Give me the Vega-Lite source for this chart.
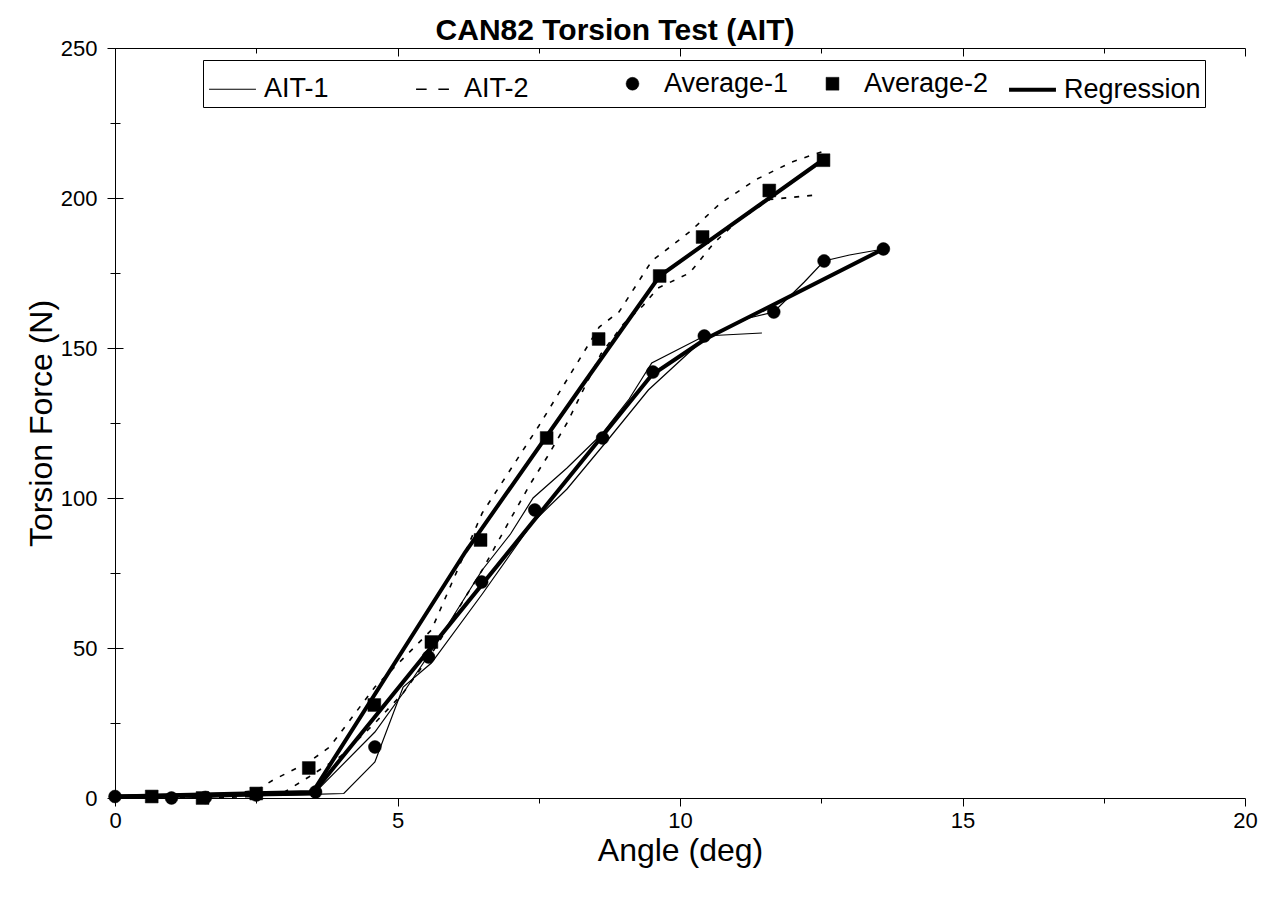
{
  "$schema": "https://vega.github.io/schema/vega-lite/v6.json",
  "width": 1130,
  "height": 750,
  "autosize": {"type": "none"},
  "padding": {"left": 115, "top": 48, "right": 40, "bottom": 119},
  "background": "white",
  "config": {
    "view": {"stroke": null},
    "font": "Liberation Sans",
    "axis": {"domainColor": "black", "tickColor": "black", "labelColor": "black", "titleColor": "black", "labelFont": "Liberation Sans", "titleFont": "Liberation Sans", "titleFontWeight": "normal"}
  },
  "title": {"text": "CAN82 Torsion Test (AIT)", "fontSize": 30, "font": "Liberation Sans", "fontWeight": "bold", "color": "black", "dx": -65, "dy": 12, "offset": 3},
  "data": {
    "values": [
      {"series": "AIT-1", "spec": "A", "x": 0, "y": 0.5},
      {"series": "AIT-1", "spec": "A", "x": 0.5, "y": 0.3},
      {"series": "AIT-1", "spec": "A", "x": 1.0, "y": 0},
      {"series": "AIT-1", "spec": "A", "x": 1.6, "y": 0.2},
      {"series": "AIT-1", "spec": "A", "x": 2.5, "y": 0.8},
      {"series": "AIT-1", "spec": "A", "x": 3.5, "y": 1.2},
      {"series": "AIT-1", "spec": "A", "x": 4.05, "y": 1.5},
      {"series": "AIT-1", "spec": "A", "x": 4.6, "y": 12},
      {"series": "AIT-1", "spec": "A", "x": 5.1, "y": 37},
      {"series": "AIT-1", "spec": "A", "x": 5.6, "y": 45},
      {"series": "AIT-1", "spec": "A", "x": 6.5, "y": 68},
      {"series": "AIT-1", "spec": "A", "x": 7.4, "y": 92},
      {"series": "AIT-1", "spec": "A", "x": 8.0, "y": 103},
      {"series": "AIT-1", "spec": "A", "x": 8.75, "y": 120},
      {"series": "AIT-1", "spec": "A", "x": 9.44, "y": 136},
      {"series": "AIT-1", "spec": "A", "x": 10.16, "y": 148.5},
      {"series": "AIT-1", "spec": "A", "x": 10.43, "y": 153},
      {"series": "AIT-1", "spec": "A", "x": 11.22, "y": 160},
      {"series": "AIT-1", "spec": "A", "x": 11.66, "y": 162},
      {"series": "AIT-1", "spec": "A", "x": 12.2, "y": 172},
      {"series": "AIT-1", "spec": "A", "x": 12.55, "y": 179},
      {"series": "AIT-1", "spec": "A", "x": 13.0, "y": 181},
      {"series": "AIT-1", "spec": "A", "x": 13.6, "y": 183},
      {"series": "AIT-1", "spec": "B", "x": 0, "y": 0.5},
      {"series": "AIT-1", "spec": "B", "x": 0.5, "y": 0.7},
      {"series": "AIT-1", "spec": "B", "x": 1.0, "y": 0.5},
      {"series": "AIT-1", "spec": "B", "x": 1.6, "y": 0.5},
      {"series": "AIT-1", "spec": "B", "x": 2.5, "y": 1.5},
      {"series": "AIT-1", "spec": "B", "x": 3.55, "y": 2},
      {"series": "AIT-1", "spec": "B", "x": 4.6, "y": 22},
      {"series": "AIT-1", "spec": "B", "x": 5.1, "y": 35},
      {"series": "AIT-1", "spec": "B", "x": 5.6, "y": 49},
      {"series": "AIT-1", "spec": "B", "x": 6.5, "y": 76},
      {"series": "AIT-1", "spec": "B", "x": 7.0, "y": 88},
      {"series": "AIT-1", "spec": "B", "x": 7.4, "y": 100},
      {"series": "AIT-1", "spec": "B", "x": 8.0, "y": 110},
      {"series": "AIT-1", "spec": "B", "x": 8.6, "y": 121},
      {"series": "AIT-1", "spec": "B", "x": 9.1, "y": 133},
      {"series": "AIT-1", "spec": "B", "x": 9.5, "y": 145},
      {"series": "AIT-1", "spec": "B", "x": 10.43, "y": 154},
      {"series": "AIT-1", "spec": "B", "x": 11.45, "y": 155},
      {"series": "AIT-2", "spec": "A", "x": 0, "y": 0.8},
      {"series": "AIT-2", "spec": "A", "x": 0.65, "y": 0.8},
      {"series": "AIT-2", "spec": "A", "x": 1.55, "y": 0.5},
      {"series": "AIT-2", "spec": "A", "x": 2.5, "y": 2.5},
      {"series": "AIT-2", "spec": "A", "x": 2.8, "y": 6},
      {"series": "AIT-2", "spec": "A", "x": 3.43, "y": 12},
      {"series": "AIT-2", "spec": "A", "x": 3.8, "y": 17},
      {"series": "AIT-2", "spec": "A", "x": 4.6, "y": 37},
      {"series": "AIT-2", "spec": "A", "x": 5.6, "y": 56},
      {"series": "AIT-2", "spec": "A", "x": 6.5, "y": 95},
      {"series": "AIT-2", "spec": "A", "x": 7.5, "y": 124},
      {"series": "AIT-2", "spec": "A", "x": 8.57, "y": 157},
      {"series": "AIT-2", "spec": "A", "x": 8.92, "y": 162},
      {"series": "AIT-2", "spec": "A", "x": 9.5, "y": 179},
      {"series": "AIT-2", "spec": "A", "x": 10.19, "y": 189},
      {"series": "AIT-2", "spec": "A", "x": 10.7, "y": 198},
      {"series": "AIT-2", "spec": "A", "x": 11.33, "y": 206},
      {"series": "AIT-2", "spec": "A", "x": 11.98, "y": 212},
      {"series": "AIT-2", "spec": "A", "x": 12.6, "y": 216},
      {"series": "AIT-2", "spec": "B", "x": 0, "y": 0.2},
      {"series": "AIT-2", "spec": "B", "x": 0.65, "y": 0.2},
      {"series": "AIT-2", "spec": "B", "x": 1.55, "y": 0},
      {"series": "AIT-2", "spec": "B", "x": 2.5, "y": 0.5},
      {"series": "AIT-2", "spec": "B", "x": 3.0, "y": 2},
      {"series": "AIT-2", "spec": "B", "x": 3.43, "y": 7},
      {"series": "AIT-2", "spec": "B", "x": 4.0, "y": 14},
      {"series": "AIT-2", "spec": "B", "x": 4.6, "y": 25},
      {"series": "AIT-2", "spec": "B", "x": 5.1, "y": 35},
      {"series": "AIT-2", "spec": "B", "x": 5.6, "y": 48},
      {"series": "AIT-2", "spec": "B", "x": 5.83, "y": 55},
      {"series": "AIT-2", "spec": "B", "x": 6.17, "y": 66},
      {"series": "AIT-2", "spec": "B", "x": 6.5, "y": 76},
      {"series": "AIT-2", "spec": "B", "x": 6.97, "y": 92},
      {"series": "AIT-2", "spec": "B", "x": 7.36, "y": 105},
      {"series": "AIT-2", "spec": "B", "x": 7.66, "y": 114},
      {"series": "AIT-2", "spec": "B", "x": 8.0, "y": 125},
      {"series": "AIT-2", "spec": "B", "x": 8.6, "y": 148},
      {"series": "AIT-2", "spec": "B", "x": 9.0, "y": 158},
      {"series": "AIT-2", "spec": "B", "x": 9.34, "y": 164},
      {"series": "AIT-2", "spec": "B", "x": 9.61, "y": 170},
      {"series": "AIT-2", "spec": "B", "x": 10.17, "y": 175},
      {"series": "AIT-2", "spec": "B", "x": 10.6, "y": 185},
      {"series": "AIT-2", "spec": "B", "x": 11.0, "y": 192},
      {"series": "AIT-2", "spec": "B", "x": 11.59, "y": 199.5},
      {"series": "AIT-2", "spec": "B", "x": 12.4, "y": 201},
      {"series": "Regression", "spec": "1", "x": 0, "y": 0.5},
      {"series": "Regression", "spec": "1", "x": 3.5, "y": 1.5},
      {"series": "Regression", "spec": "1", "x": 9.5, "y": 141},
      {"series": "Regression", "spec": "1", "x": 10.45, "y": 153},
      {"series": "Regression", "spec": "1", "x": 13.6, "y": 183},
      {"series": "Regression", "spec": "2", "x": 0, "y": 0.5},
      {"series": "Regression", "spec": "2", "x": 3.5, "y": 2},
      {"series": "Regression", "spec": "2", "x": 6.2, "y": 82},
      {"series": "Regression", "spec": "2", "x": 8.25, "y": 137},
      {"series": "Regression", "spec": "2", "x": 9.64, "y": 174},
      {"series": "Regression", "spec": "2", "x": 12.55, "y": 213},
      {"series": "Average-1", "spec": "1", "x": 0, "y": 0.5},
      {"series": "Average-1", "spec": "1", "x": 1.0, "y": 0},
      {"series": "Average-1", "spec": "1", "x": 1.6, "y": 0.2},
      {"series": "Average-1", "spec": "1", "x": 2.5, "y": 1},
      {"series": "Average-1", "spec": "1", "x": 3.55, "y": 2},
      {"series": "Average-1", "spec": "1", "x": 4.6, "y": 17},
      {"series": "Average-1", "spec": "1", "x": 5.55, "y": 47},
      {"series": "Average-1", "spec": "1", "x": 6.49, "y": 72},
      {"series": "Average-1", "spec": "1", "x": 7.43, "y": 96},
      {"series": "Average-1", "spec": "1", "x": 8.63, "y": 120},
      {"series": "Average-1", "spec": "1", "x": 9.52, "y": 142},
      {"series": "Average-1", "spec": "1", "x": 10.43, "y": 154},
      {"series": "Average-1", "spec": "1", "x": 11.66, "y": 162},
      {"series": "Average-1", "spec": "1", "x": 12.55, "y": 179},
      {"series": "Average-1", "spec": "1", "x": 13.6, "y": 183},
      {"series": "Average-2", "spec": "2", "x": 0.65, "y": 0.5},
      {"series": "Average-2", "spec": "2", "x": 1.55, "y": 0},
      {"series": "Average-2", "spec": "2", "x": 2.5, "y": 1.5},
      {"series": "Average-2", "spec": "2", "x": 3.43, "y": 10},
      {"series": "Average-2", "spec": "2", "x": 4.59, "y": 31},
      {"series": "Average-2", "spec": "2", "x": 5.6, "y": 52},
      {"series": "Average-2", "spec": "2", "x": 6.47, "y": 86},
      {"series": "Average-2", "spec": "2", "x": 7.64, "y": 120},
      {"series": "Average-2", "spec": "2", "x": 8.56, "y": 153},
      {"series": "Average-2", "spec": "2", "x": 9.64, "y": 174},
      {"series": "Average-2", "spec": "2", "x": 10.4, "y": 187},
      {"series": "Average-2", "spec": "2", "x": 11.58, "y": 202.5},
      {"series": "Average-2", "spec": "2", "x": 12.54, "y": 212.6}
    ]
  },
  "encoding": {
    "y": {
      "field": "y", "type": "quantitative",
      "scale": {"domain": [0, 250], "nice": false, "zero": false},
      "axis": {
        "title": "Torsion Force (N)", "titleFontSize": 32, "titlePadding": 2,
        "values": [0, 25, 50, 75, 100, 125, 150, 175, 200, 225, 250],
        "labelExpr": "datum.value % 50 === 0 ? datum.label : ''",
        "labelFontSize": 22, "labelPadding": 10, "labelFlush": false,
        "tickSize": {"condition": {"test": "datum.value % 50 === 0", "value": 8}, "value": 5},
        "grid": true, "gridColor": "black", "gridOpacity": 1, "gridWidth": 1,
        "gridDash": {"condition": {"test": "datum.value % 50 === 0", "value": [8, 3000]}, "value": [5, 3000]}
      }
    }
  },
  "layer": [
    {
      "encoding": {
        "x": {
          "field": "x", "type": "quantitative",
          "scale": {"domain": [0, 20], "nice": false, "zero": false},
          "axis": {
            "orient": "bottom",
            "title": "Angle (deg)", "titleFontSize": 32, "titlePadding": 4,
            "values": [0, 2.5, 5, 7.5, 10, 12.5, 15, 17.5, 20],
            "labelExpr": "datum.value % 5 === 0 ? datum.label : ''",
            "labelFontSize": 22, "labelPadding": 4, "labelFlush": false,
            "tickSize": {"condition": {"test": "datum.value % 5 === 0", "value": 8}, "value": 5},
            "grid": true, "gridColor": "black", "gridOpacity": 1, "gridWidth": 1,
            "gridDash": {"condition": {"test": "datum.value % 5 === 0", "value": [8, 3000]}, "value": [5, 3000]}
          }
        }
      },
      "layer": [
        {
          "transform": [{"filter": "datum.series === 'AIT-1'"}],
          "mark": {"type": "line", "color": "black", "strokeWidth": 1.2},
          "encoding": {"detail": {"field": "spec", "type": "nominal"}}
        },
        {
          "transform": [{"filter": "datum.series === 'AIT-2'"}],
          "mark": {"type": "line", "color": "black", "strokeWidth": 1.6, "strokeDash": [5, 8]},
          "encoding": {"detail": {"field": "spec", "type": "nominal"}}
        },
        {
          "transform": [{"filter": "datum.series === 'Average-1' || datum.series === 'Average-2'"}],
          "mark": {"type": "point", "filled": true, "color": "black", "stroke": "black", "opacity": 1},
          "encoding": {
            "shape": {
              "field": "series", "type": "nominal",
              "scale": {
                "domain": ["AIT-1", "AIT-2", "Average-1", "Average-2", "Regression"],
                "range": ["M-1,0H1", "M-0.7,0H-0.25M0.25,0H0.7", "circle", "square", "M-1,0H1"]
              },
              "legend": {
                "title": null, "orient": "none", "legendX": 88, "legendY": 12,
                "direction": "horizontal", "columns": 5, "gridAlign": "all", "columnPadding": 0,
                "labelOffset": 6, "labelFont": "Liberation Sans", "labelFontSize": 27,
                "labelColor": "black", "labelLimit": 400, "padding": 4,
                "strokeColor": "black", "fillColor": "white",
                "symbolStrokeColor": "black"
              }
            },
            "size": {
              "field": "series", "type": "nominal",
              "scale": {
                "type": "ordinal",
                "domain": ["AIT-1", "AIT-2", "Average-1", "Average-2", "Regression"],
                "range": [2200, 2200, 165, 165, 2200]
              }
            },
            "strokeWidth": {
              "field": "series", "type": "nominal",
              "scale": {
                "type": "ordinal",
                "domain": ["AIT-1", "AIT-2", "Average-1", "Average-2", "Regression"],
                "range": [1.2, 1.6, 0.5, 0.5, 4]
              }
            }
          }
        }
      ]
    },
    {
      "transform": [{"filter": "datum.series === 'Regression'"}],
      "mark": {"type": "line", "color": "black", "strokeWidth": 4},
      "encoding": {
        "detail": {"field": "spec", "type": "nominal"},
        "x": {
          "field": "x", "type": "quantitative",
          "scale": {"domain": [0, 20], "nice": false, "zero": false},
          "axis": {"orient": "top", "labels": false, "ticks": false, "grid": false, "title": null, "domainColor": "black", "domainWidth": 1.2}
        }
      }
    }
  ],
  "resolve": {"axis": {"x": "independent"}}
}
